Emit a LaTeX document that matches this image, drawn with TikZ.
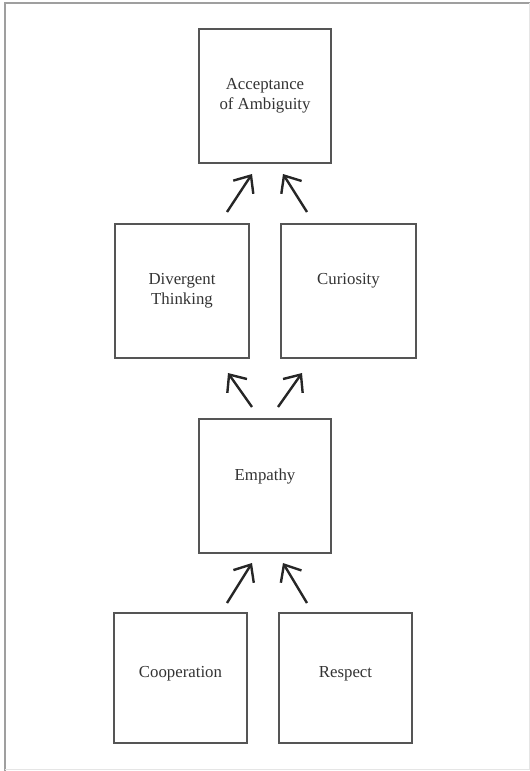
\documentclass[tikz,border=0pt]{standalone}
\usepackage{fontspec}
\setmainfont{Liberation Serif}
\usetikzlibrary{arrows.meta,calc}
\definecolor{boxgray}{HTML}{555555}
\definecolor{txtgray}{HTML}{333333}
\begin{document}
\begin{tikzpicture}[x=1pt,y=-1pt,
  box/.style={draw=boxgray, line width=2pt, rectangle, minimum width=133pt, minimum height=134pt, inner sep=0pt, outer sep=0pt},
  lbl/.style={font=\fontsize{16.8pt}{20pt}\selectfont, text=txtgray, align=center, inner sep=0pt},
  arr/.style={draw=black!85, line width=2.4pt, -{Straight Barb[length=14pt,width=24pt]}}]
\useasboundingbox (0,0) rectangle (530,771);
\draw[gray!75, line width=2.2pt] (5,771) -- (5,3) -- (530,3);
\draw[gray!20, line width=1pt] (529,3) -- (529,769) -- (5,769);

\node[box, minimum width=132pt] (acc) at (265,96) {};
\node[box, minimum width=134pt] (dt) at (182,291) {};
\node[box, minimum width=135pt] (cur) at (348.5,291) {};
\node[box, minimum width=132pt] (emp) at (265,486) {};
\node[box, minimum height=130pt] (coop) at (180.5,678) {};
\node[box, minimum height=130pt] (resp) at (345.5,678) {};

\node[lbl] (accT) at (acc.center) {Acceptance\\of Ambiguity};
\node[lbl] (dtT) at (dt.center) {Divergent\\Thinking};
\node[lbl] (curT) at ($(cur.center)+(0,-10)$) {Curiosity};
\node[lbl] (empT) at ($(emp.center)+(0,-10)$) {Empathy};
\node[lbl] (coopT) at ($(coop.center)+(0,-4)$) {Cooperation};
\node[lbl] (respT) at ($(resp.center)+(0,-4)$) {Respect};

\draw[arr] ($(dt.north)+(45,-12)$) -- ($(acc.south)+(-13,11)$);
\draw[arr] ($(cur.north)+(-41.5,-12)$) -- ($(acc.south)+(18,11)$);
\draw[arr] ($(emp.north)+(-13,-12)$) -- ($(dt.south)+(46,15)$);
\draw[arr] ($(emp.north)+(13,-12)$) -- ($(cur.south)+(-46.5,15)$);
\draw[arr] ($(coop.north)+(46.5,-10)$) -- ($(emp.south)+(-13,10)$);
\draw[arr] ($(resp.north)+(-38.5,-10)$) -- ($(emp.south)+(18,10)$);
\end{tikzpicture}
\end{document}
